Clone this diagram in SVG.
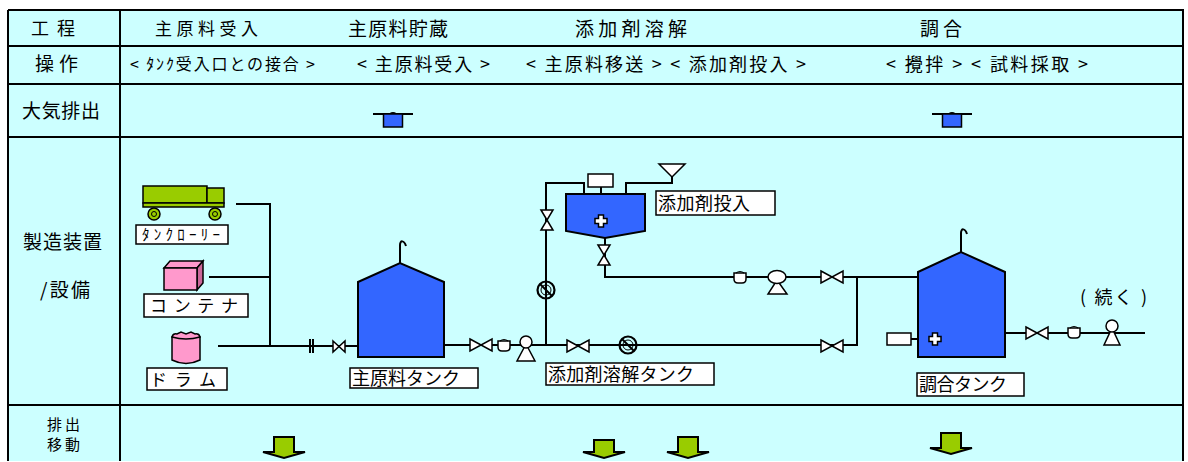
<svg xmlns="http://www.w3.org/2000/svg" xmlns:xlink="http://www.w3.org/1999/xlink" width="1188" height="462" viewBox="0 0 1188 462">
<style>
.t{font-family:"Noto Sans CJK JP","Noto Sans CJK SC",sans-serif;fill:#000}
.grid{fill:none;stroke:#000;stroke-width:2}
.pipe{fill:none;stroke:#000;stroke-width:2}
.box{fill:#fff;stroke:#000;stroke-width:1.5}
.sym{fill:#fff;stroke:#000;stroke-width:1.5}
.tank{fill:#3366FF;stroke:#000;stroke-width:2;stroke-linejoin:miter}
.arrow{fill:#99CC00;stroke:#000;stroke-width:2;stroke-linejoin:miter}
</style>
<defs>
<g id="vent"><path d="M-20,0 H-3 Q0,-2 3,0 H20" fill="none" stroke="#000" stroke-width="2"/><rect x="-9.5" y="0" width="19" height="13" fill="#3366FF" stroke="#000" stroke-width="1.5"/></g>
<path id="valveH" d="M-11,-6 L11,6 L11,-6 L-11,6 Z" class="sym"/>
<path id="valveV" d="M-6,-10 L6,10 L-6,10 L6,-10 Z" class="sym"/>
<g id="strainer"><path d="M-6,-4 H6 V2 Q6,6 2,6 H-2 Q-6,6 -6,2 Z" class="sym"/><path d="M-4,-4 Q0,-7 4,-4" fill="none" stroke="#000" stroke-width="1.2"/></g>
<g id="rotary"><circle r="8.5" fill="none" stroke="#000" stroke-width="2.2"/><circle r="5" fill="none" stroke="#000" stroke-width="1"/><path d="M-6,-6 L6,6" stroke="#000" stroke-width="2"/></g>
<g id="cross"><path d="M-2.5,-6 H2.5 V-2.5 H6 V2.5 H2.5 V6 H-2.5 V2.5 H-6 V-2.5 H-2.5 Z" class="sym"/></g>
</defs>

<g id="table">
<rect x="8" y="10" width="1175" height="451" fill="#CCFFFF"/>
<path class="grid" d="M8,10 H1183 V461 M8,10 V461 M8,46 H1183 M8,84 H1183 M8,137 H1183 M8,405 H1183 M120,10 V461"/>
</g>

<g id="headers">
<text class="t" x="31" y="35" font-size="18" textLength="44" lengthAdjust="spacing">工程</text>
<text class="t" x="155" y="35" font-size="17" textLength="103" lengthAdjust="spacing">主原料受入</text>
<text class="t" x="348" y="36" font-size="19" textLength="100" lengthAdjust="spacing">主原料貯蔵</text>
<text class="t" x="575" y="36" font-size="19" textLength="112" lengthAdjust="spacing">添加剤溶解</text>
<text class="t" x="920" y="36" font-size="19" textLength="42" lengthAdjust="spacing">調合</text>
<text class="t" x="35" y="71" font-size="19" textLength="43" lengthAdjust="spacing">操作</text>
<text class="t" x="130" y="70" font-size="16" textLength="185" lengthAdjust="spacing">&lt; ﾀﾝｸ受入口との接合 &gt;</text>
<text class="t" x="357" y="71" font-size="18" textLength="133" lengthAdjust="spacing">&lt; 主原料受入 &gt;</text>
<text class="t" x="526" y="71" font-size="18" textLength="280" lengthAdjust="spacing">&lt; 主原料移送 &gt; &lt; 添加剤投入 &gt;</text>
<text class="t" x="886" y="71" font-size="18" textLength="202" lengthAdjust="spacing">&lt; 攪拌 &gt; &lt; 試料採取 &gt;</text>
<text class="t" x="22" y="118" font-size="19" textLength="78" lengthAdjust="spacing">大気排出</text>
<text class="t" x="23" y="249" font-size="19" textLength="79" lengthAdjust="spacing">製造装置</text>
<text class="t" x="40" y="297" font-size="19" textLength="50" lengthAdjust="spacing">/設備</text>
<text class="t" x="47" y="430" font-size="15" textLength="33" lengthAdjust="spacing">排出</text>
<text class="t" x="47" y="450" font-size="15" textLength="33" lengthAdjust="spacing">移動</text>
</g>

<g id="vents">
<use xlink:href="#vent" x="393" y="114"/>
<use xlink:href="#vent" x="952" y="114"/>
</g>

<g id="connectors">
<path class="pipe" d="M236,204 H270 V346"/>
<path class="pipe" d="M209,277 H270"/>
<path class="pipe" d="M218,346 H358"/>
<path class="pipe" d="M444,345 H546"/>
<path class="pipe" d="M546,346 V183 H584 V200"/>
<path class="pipe" d="M626,200 V183 H672 V176"/>
<path class="pipe" d="M605,238 V277 H918"/>
<path class="pipe" d="M546,345 H857 V277"/>
<path class="pipe" d="M1005,333 H1145"/>
<path class="pipe" d="M911,339 H930"/>
<path class="pipe" d="M601,187 V220"/>
<path class="pipe" d="M400,263 V245 C400,240 404,240 406,246"/>
<path class="pipe" d="M961,252 V233 C961,228 965,228 967,234"/>
</g>

<g id="truck">
<rect x="143" y="186" width="64" height="17" fill="#99CC00" stroke="#000" stroke-width="1.5"/>
<rect x="207" y="188" width="17" height="15" fill="#99CC00" stroke="#000" stroke-width="1.5"/>
<rect x="143" y="203" width="81" height="4" fill="#99CC00" stroke="#000" stroke-width="1.5"/>
<circle cx="154" cy="214" r="6" fill="#99CC00" stroke="#000" stroke-width="1.5"/>
<circle cx="154" cy="214" r="2.5" fill="none" stroke="#000" stroke-width="1"/>
<circle cx="215" cy="214" r="6" fill="#99CC00" stroke="#000" stroke-width="1.5"/>
<circle cx="215" cy="214" r="2.5" fill="none" stroke="#000" stroke-width="1"/>
<rect class="box" x="136" y="225" width="92" height="19"/>
<text class="t" x="142" y="240" font-size="15" textLength="78" lengthAdjust="spacing">ﾀﾝｸﾛｰﾘｰ</text>
</g>

<g id="container">
<polygon points="164,268 170,261 203,261 197,268" fill="#FF99CC" stroke="#000" stroke-width="1.5"/>
<polygon points="197,268 203,261 203,283 197,290" fill="#CC6699" stroke="#000" stroke-width="1.5"/>
<rect x="164" y="268" width="33" height="22" fill="#FF99CC" stroke="#000" stroke-width="1.5"/>
<rect class="box" x="144" y="294" width="104" height="23"/>
<text class="t" x="150" y="312" font-size="17" textLength="88" lengthAdjust="spacing">コンテナ</text>
</g>

<g id="drum">
<path d="M172,337 V360 Q186,367 200,360 V337 Z" fill="#FF99CC" stroke="#000" stroke-width="1.5"/>
<path d="M172,337 Q173,333 177,334 L181,332 L186,334 L191,332 L195,334 Q199,333 200,337 Q186,341 172,337 Z" fill="#FF99CC" stroke="#000" stroke-width="1.5"/>
<rect class="box" x="147" y="368" width="80" height="22"/>
<text class="t" x="150" y="386" font-size="17" textLength="66" lengthAdjust="spacing">ドラム</text>
</g>

<g id="main-tank">
<path class="tank" d="M358,282 L400,263 L444,282 V357 H358 Z"/>
<rect class="box" x="350" y="368" width="128" height="20"/>
<text class="t" x="352" y="385" font-size="18" textLength="108" lengthAdjust="spacing">主原料タンク</text>
</g>

<g id="inlet-fittings">
<path d="M310,339 V353 M313,339 V353" stroke="#000" stroke-width="2"/>
<path d="M333,341 L345,352 L345,341 L333,352 Z" class="sym"/>
<use xlink:href="#valveH" x="481" y="345"/>
<use xlink:href="#strainer" x="504" y="345"/>
</g>

<g id="pump1">
<polygon class="sym" points="526,344 535,361 517,361"/>
<circle class="sym" cx="526" cy="342" r="6"/>
</g>

<g id="additive-tank">
<path class="tank" d="M566,194 H645 V231 L605,238 L566,231 Z"/>
<rect class="sym" x="588" y="174" width="25" height="13"/>
<use xlink:href="#cross" x="601" y="221"/>
<polygon class="sym" points="659,164 685,164 672,177"/>
<rect class="box" x="656" y="191" width="119" height="24"/>
<text class="t" x="658" y="210" font-size="18" textLength="92" lengthAdjust="spacing">添加剤投入</text>
<rect class="box" x="546" y="363" width="168" height="22"/>
<text class="t" x="548" y="381" font-size="18" textLength="146" lengthAdjust="spacing">添加剤溶解タンク</text>
</g>

<g id="transfer-fittings">
<use xlink:href="#valveV" x="547" y="220"/>
<use xlink:href="#valveV" x="604" y="255"/>
<use xlink:href="#rotary" x="546" y="290"/>
<use xlink:href="#rotary" x="628" y="345"/>
<use xlink:href="#valveH" x="578" y="346"/>
<use xlink:href="#valveH" x="832" y="277"/>
<use xlink:href="#valveH" x="832" y="346"/>
<use xlink:href="#strainer" x="740" y="277"/>
<polygon class="sym" points="777,280 787,294 768,294"/>
<ellipse class="sym" cx="777" cy="277" rx="9" ry="6.5"/>
</g>

<g id="blend-tank">
<path class="tank" d="M918,272 L961,252 L1005,272 V357 H918 Z"/>
<rect class="sym" x="887" y="333" width="24" height="12"/>
<use xlink:href="#cross" x="935" y="339"/>
<rect class="box" x="917" y="373" width="107" height="23"/>
<text class="t" x="919" y="391" font-size="18" textLength="88" lengthAdjust="spacing">調合タンク</text>
</g>

<g id="outlet-fittings">
<use xlink:href="#valveH" x="1037" y="333"/>
<use xlink:href="#strainer" x="1074" y="332"/>
<polygon class="sym" points="1112,328 1120,345 1104,345"/>
<circle class="sym" cx="1112" cy="326" r="6"/>
<text class="t" x="1080" y="304" font-size="18" textLength="67" lengthAdjust="spacing">( 続く )</text>
</g>

<g id="discharge-arrows">
<polygon class="arrow" points="274,437 294,437 294,452 305,452 284,458 263,452 274,452"/>
<polygon class="arrow" points="594,440 614,440 614,452 625,452 604,458 583,452 594,452"/>
<polygon class="arrow" points="678,437 698,437 698,452 709,452 688,458 667,452 678,452"/>
<polygon class="arrow" points="941,433 961,433 961,448 972,448 951,454 930,448 941,448"/>
</g>
</svg>
